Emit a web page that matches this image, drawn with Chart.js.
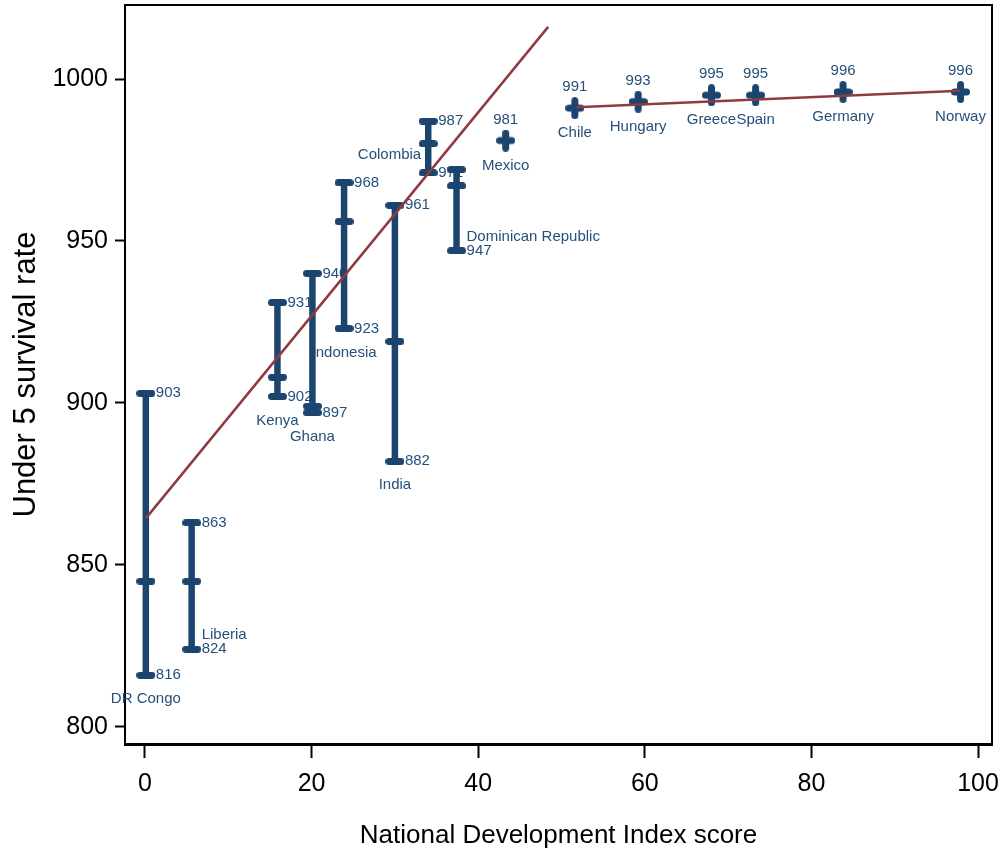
<!DOCTYPE html>
<html>
<head>
<meta charset="utf-8">
<script src="https://cdn.jsdelivr.net/npm/chart.js@4.4.1/dist/chart.umd.min.js"></script>
<style>
  html, body { margin: 0; padding: 0; background: #fff; }
  #wrap { width: 1002px; height: 856px; }
</style>
</head>
<body>
<div id="wrap"><canvas id="chart"></canvas></div>
<script>
// countries shown as a low / mid / high range
const rangeNames = ["DR Congo", "Liberia", "Kenya", "Ghana", "Indonesia", "India", "Colombia", "Dominican Republic"];
const rangeIndex = [0.1, 5.6, 15.9, 20.1, 23.9, 30.0, 34.0, 37.4];
const rangeLow  = [816, 824, 902, 897, 923, 882, 971, 947];
const rangeMid  = [845, 845, 908, 899, 956, 919, 980, 967];
const rangeHigh = [903, 863, 931, 940, 968, 961, 987, 972];

// countries shown as a single value
const pointNames = ["Mexico", "Chile", "Hungary", "Greece", "Spain", "Germany", "Norway"];
const pointIndex = [43.3, 51.6, 59.2, 68.0, 73.3, 83.8, 97.9];
const pointRate  = [981, 991, 993, 995, 995, 996, 996];

// fitted lines, end points
const fitLowX  = [0.1, 48.4];
const fitLowY  = [864.4, 1016.1];
const fitHighX = [51.8, 97.9];
const fitHighY = [991.3, 996.4];

const xTicks = [0, 20, 40, 60, 80, 100];
const yTicks = [800, 850, 900, 950, 1000];

const NAVY = '#1b456e';
const LABEL = '#25507a';
const RED = '#8e3b40';
const SANS = "'Liberation Sans', Arial, sans-serif";

// where the country name goes: which end it hangs on and on what side
const nameSpot = {
  "DR Congo": ["low", "below"],
  "Liberia": ["low", "rightAbove"],
  "Kenya": ["low", "below"],
  "Ghana": ["low", "below"],
  "Indonesia": ["low", "below"],
  "India": ["low", "below"],
  "Colombia": ["mid", "left"],
  "Dominican Republic": ["low", "rightAbove"]
};
const noHighLabel = ["Dominican Republic"];

function capMarker(w, h) {
  const c = document.createElement('canvas');
  c.width = w; c.height = h;
  const g = c.getContext('2d');
  g.strokeStyle = NAVY; g.lineWidth = h; g.lineCap = 'round';
  g.beginPath(); g.moveTo(h / 2, h / 2); g.lineTo(w - h / 2, h / 2); g.stroke();
  return c;
}
function plusMarker(w, h, t) {
  const c = document.createElement('canvas');
  c.width = w; c.height = h;
  const g = c.getContext('2d');
  g.strokeStyle = NAVY; g.lineWidth = t; g.lineCap = 'round';
  g.beginPath();
  g.moveTo(t / 2, h / 2); g.lineTo(w - t / 2, h / 2);
  g.moveTo(w / 2, t / 2); g.lineTo(w / 2, h - t / 2);
  g.stroke();
  return c;
}
const capImg = capMarker(19, 7);
const plusImg = plusMarker(19, 22, 7);

const frame = {
  id: 'frame',
  beforeDatasetsDraw(chart) {
    const { ctx, chartArea: a } = chart;
    ctx.save();
    ctx.strokeStyle = '#000';
    ctx.lineWidth = 2;
    ctx.strokeRect(a.left, a.top, a.right - a.left, a.bottom - a.top);
    ctx.restore();
  }
};

const labels = {
  id: 'labels',
  beforeDatasetsDraw(chart) {
    const { ctx, scales: { x, y } } = chart;
    ctx.save();
    ctx.font = '15px ' + SANS;
    ctx.fillStyle = LABEL;
    ctx.textBaseline = 'middle';
    rangeNames.forEach((name, i) => {
      const px = x.getPixelForValue(rangeIndex[i]);
      const low = y.getPixelForValue(rangeLow[i]);
      ctx.textAlign = 'left';
      ctx.fillText(String(rangeLow[i]), px + 10, low);
      if (!noHighLabel.includes(name)) {
        ctx.fillText(String(rangeHigh[i]), px + 10, y.getPixelForValue(rangeHigh[i]));
      }
      const [end, side] = nameSpot[name];
      const py = end === 'mid' ? y.getPixelForValue(rangeMid[i]) : low;
      if (side === 'below') {
        ctx.textAlign = 'center';
        ctx.fillText(name, px, py + 24);
      } else if (side === 'rightAbove') {
        ctx.textAlign = 'left';
        ctx.fillText(name, px + 10, py - 14);
      } else {
        ctx.textAlign = 'right';
        ctx.fillText(name, px - 7, py + 11);
      }
    });
    ctx.textAlign = 'center';
    pointNames.forEach((name, i) => {
      const px = x.getPixelForValue(pointIndex[i]);
      const py = y.getPixelForValue(pointRate[i]);
      ctx.fillText(String(pointRate[i]), px, py - 21);
      ctx.fillText(name, px, py + 25);
    });
    ctx.restore();
  }
};

const datasets = [
  {
    type: 'line',
    data: fitLowX.map((v, i) => ({ x: v, y: fitLowY[i] })),
    borderColor: RED, borderWidth: 2.5, pointRadius: 0
  },
  {
    type: 'line',
    data: fitHighX.map((v, i) => ({ x: v, y: fitHighY[i] })),
    borderColor: RED, borderWidth: 2.5, pointRadius: 0
  },
  {
    type: 'scatter',
    data: pointIndex.map((v, i) => ({ x: v, y: pointRate[i] })),
    pointStyle: plusImg, pointRadius: 10
  }
].concat(rangeNames.map((name, i) => ({
  type: 'line',
  data: [
    { x: rangeIndex[i], y: rangeLow[i] },
    { x: rangeIndex[i], y: rangeMid[i] },
    { x: rangeIndex[i], y: rangeHigh[i] }
  ],
  borderColor: NAVY, borderWidth: 6.5,
  pointStyle: capImg, pointRadius: 9
})));

new Chart(document.getElementById('chart'), {
  type: 'scatter',
  data: { datasets: datasets },
  options: {
    responsive: true,
    maintainAspectRatio: false,
    animation: false,
    layout: { autoPadding: false, padding: { top: 5, right: 10, left: 0, bottom: 0 } },
    plugins: { legend: { display: false }, tooltip: { enabled: false } },
    scales: {
      x: {
        type: 'linear',
        min: -2.4, max: 101.68,
        afterBuildTicks: (s) => { s.ticks = xTicks.map(v => ({ value: v })); },
        afterFit: (s) => { s.height = 112; s.paddingLeft = 0; s.paddingRight = 0; },
        grid: { drawOnChartArea: false, tickLength: 14, tickWidth: 2, tickColor: '#000' },
        border: { display: true, color: '#000', width: 3 },
        ticks: { color: '#000', padding: 11, font: { family: SANS, size: 25 }, callback: (v) => String(v) },
        title: {
          display: true, text: 'National Development Index score', color: '#000',
          font: { family: SANS, size: 26 }, padding: { top: 0, bottom: 5 }
        }
      },
      y: {
        type: 'linear',
        min: 794.75, max: 1022.84,
        afterBuildTicks: (s) => { s.ticks = yTicks.map(v => ({ value: v })); },
        afterFit: (s) => { s.width = 125; s.paddingTop = 0; s.paddingBottom = 0; },
        grid: { drawOnChartArea: false, tickLength: 10, tickWidth: 2, tickColor: '#000' },
        border: { display: true, color: '#000', width: 2 },
        ticks: { color: '#000', padding: 7, font: { family: SANS, size: 25 }, callback: (v) => String(v) },
        title: {
          display: true, text: 'Under 5 survival rate', color: '#000',
          font: { family: SANS, size: 31 }, padding: { top: 8, bottom: 0 }
        }
      }
    }
  },
  plugins: [frame, labels]
});
</script>
</body>
</html>
